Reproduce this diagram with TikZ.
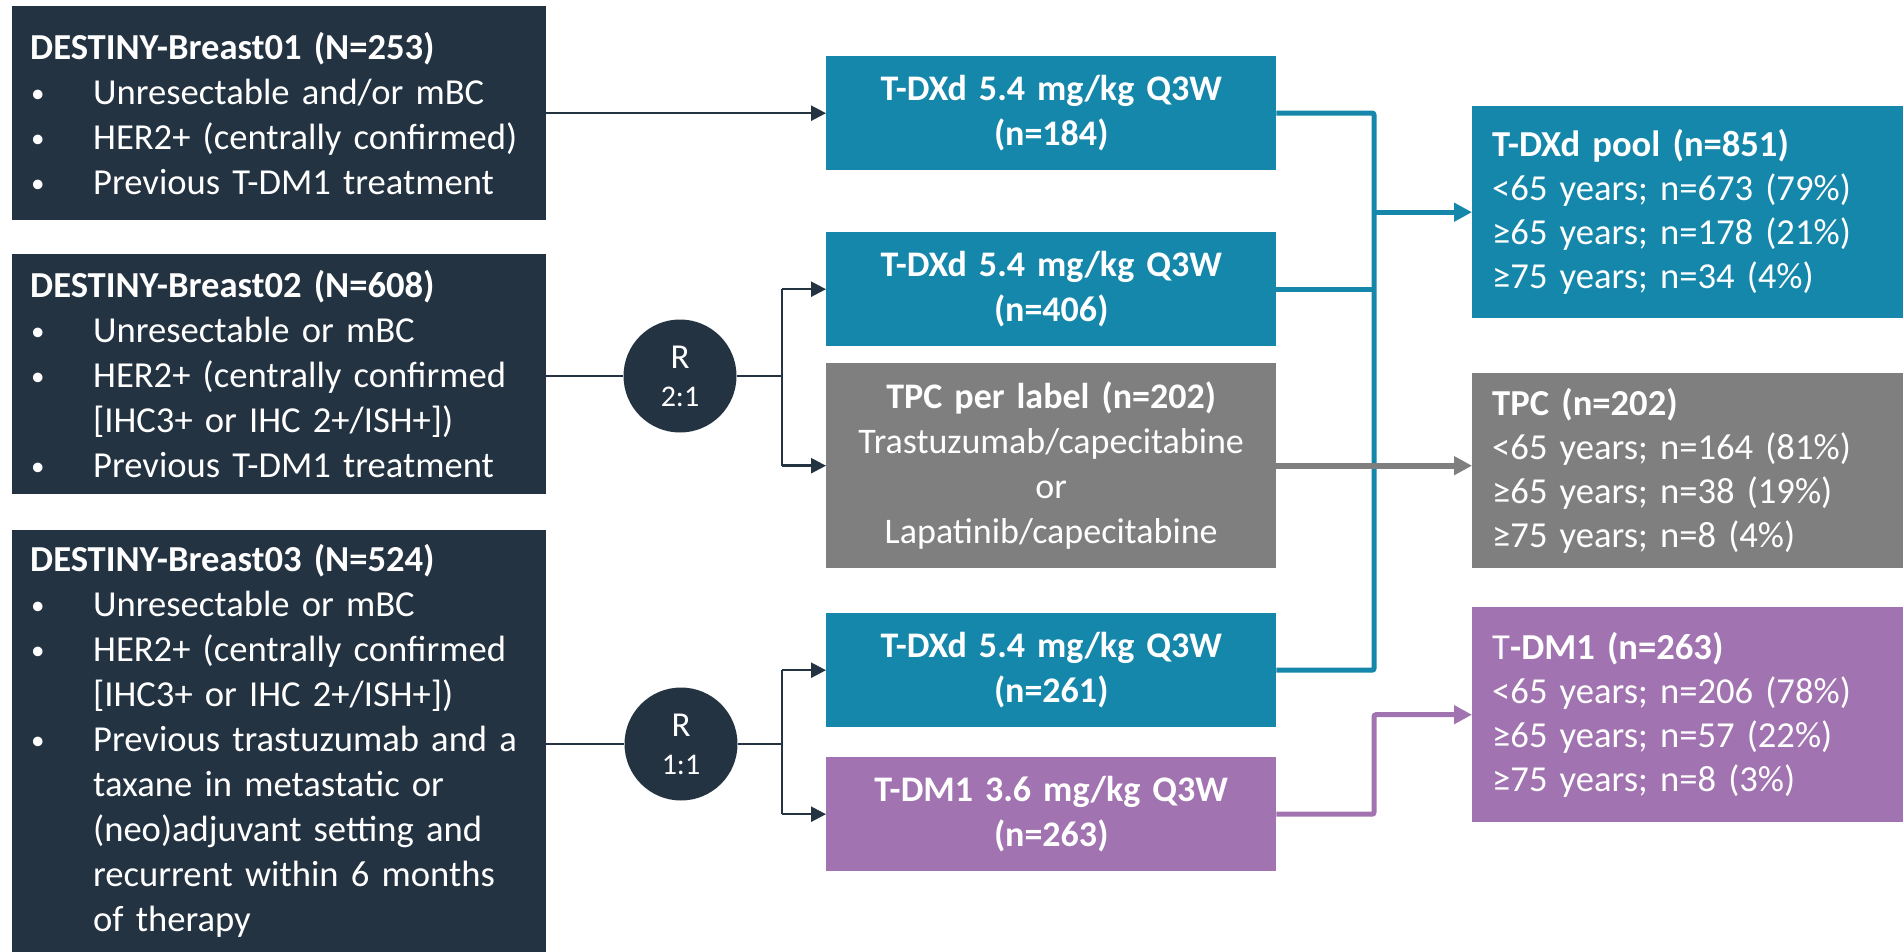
\documentclass[tikz,border=0pt]{standalone}
\usepackage{fontspec}
\setmainfont{Carlito}
\usetikzlibrary{arrows.meta}
\definecolor{navy}{HTML}{243342}
\definecolor{teal}{HTML}{1487AB}
\definecolor{greyb}{HTML}{7F7F7F}
\definecolor{purp}{HTML}{A173B0}
\newcommand{\bul}[1]{\makebox[63pt][l]{\hspace*{1pt}\raisebox{2pt}{\fontsize{27}{27}\selectfont •}}#1}
\newcommand{\cont}[1]{\hspace*{63pt}#1}
\tikzset{
  studybox/.style={draw=none,fill=navy,text=white,anchor=north west,minimum width=534pt,
    text width=498pt,inner xsep=18pt,inner ysep=0pt,align=left,font=\fontsize{36.6}{45}\selectfont},
  armbox/.style={draw=none,text=white,anchor=north west,minimum width=450pt,minimum height=114pt,
    text width=430pt,inner sep=0pt,align=center,font=\fontsize{36}{45}\selectfont},
  poolbox/.style={draw=none,text=white,anchor=north west,minimum width=440pt,
    text width=404pt,inner xsep=20pt,inner ysep=0pt,align=left,font=\fontsize{36.6}{44}\selectfont},
  rnode/.style={circle,fill=navy,text=white,minimum size=113pt,inner sep=0pt,align=center,
    font=\fontsize{35}{40}\selectfont},
  darkline/.style={draw=navy,line width=2.5pt},
  darkarrow/.style={darkline,-{Triangle[length=15pt,width=15pt]}},
  tealline/.style={draw=teal,line width=5pt},
  greyline/.style={draw=greyb,line width=6pt},
  purpline/.style={draw=purp,line width=5pt},
  bigtip/.style={-{Triangle[length=18pt,width=18pt]}},
}
\begin{document}
\begin{tikzpicture}[x=1pt,y=-1pt]
\useasboundingbox (0,0) rectangle (1903,952);
% study boxes
\node[studybox,minimum height=214pt] (db1) at (12,6) {\textbf{DESTINY-Breast01 (N=253)}\\
\bul{Unresectable and/or mBC}\\
\bul{HER2+ (centrally confirmed)}\\
\bul{Previous T-DM1 treatment}};
\node[studybox,minimum height=240pt] (db2) at (12,254) {\textbf{DESTINY-Breast02 (N=608)}\\
\bul{Unresectable or mBC}\\
\bul{HER2+ (centrally confirmed}\\
\cont{[IHC3+ or IHC 2+/ISH+])}\\
\bul{Previous T-DM1 treatment}};
\node[studybox,minimum height=422pt] (db3) at (12,530) {\textbf{DESTINY-Breast03 (N=524)}\\
\bul{Unresectable or mBC}\\
\bul{HER2+ (centrally confirmed}\\
\cont{[IHC3+ or IHC 2+/ISH+])}\\
\bul{Previous trastuzumab and a}\\
\cont{taxane in metastatic or}\\
\cont{(neo)adjuvant setting and}\\
\cont{recurrent within 6 months}\\
\cont{of therapy}};
% randomisation
\node[rnode] (c1) at (680,376) {R\\[-2pt]{\fontsize{30}{34}\selectfont 2:1}};
\node[rnode] (c2) at (681,744) {R\\[-2pt]{\fontsize{30}{34}\selectfont 1:1}};
% arm boxes
\node[armbox,fill=teal] (t1) at (826,56) {\textbf{T-DXd 5.4 mg/kg Q3W}\\\textbf{(n=184)}};
\node[armbox,fill=teal] (t2) at (826,232) {\textbf{T-DXd 5.4 mg/kg Q3W}\\\textbf{(n=406)}};
\node[armbox,fill=greyb,minimum height=205pt] (tpc) at (826,363) {\textbf{TPC per label (n=202)}\\Trastuzumab/capecitabine\\or\\Lapatinib/capecitabine};
\node[armbox,fill=teal] (t3) at (826,613) {\textbf{T-DXd 5.4 mg/kg Q3W}\\\textbf{(n=261)}};
\node[armbox,fill=purp] (dm) at (826,757) {\textbf{T-DM1 3.6 mg/kg Q3W}\\\textbf{(n=263)}};
% pool boxes
\node[poolbox,fill=teal,minimum height=212pt] (pool) at (1472,106) {\textbf{T-DXd pool (n=851)}\\
<65 years; n=673 (79\%)\\≥65 years; n=178 (21\%)\\≥75 years; n=34 (4\%)};
\node[poolbox,fill=greyb,minimum height=195pt] (tpcr) at (1472,373) {\textbf{TPC (n=202)}\\
<65 years; n=164 (81\%)\\≥65 years; n=38 (19\%)\\≥75 years; n=8 (4\%)};
\node[poolbox,fill=purp,minimum height=215pt] (dmr) at (1472,607) {T\textbf{-DM1 (n=263)}\\
<65 years; n=206 (78\%)\\≥65 years; n=57 (22\%)\\≥75 years; n=8 (3\%)};
% coordinates
\coordinate (b1) at (782,376);
\coordinate (b2) at (782,744);
\coordinate (mx) at (1374,113);
% dark connectors
\draw[darkarrow] (db1.east |- t1.west) -- (t1.west);
\draw[darkline] (db2.east |- c1.west) -- (c1.west);
\draw[darkline] (c1.east) -- (b1);
\draw[darkline] (b1 |- t2.west) -- (b1 |- tpc.west);
\draw[darkarrow] (b1 |- t2.west) -- (t2.west);
\draw[darkarrow] (b1 |- tpc.west) -- (tpc.west);
\draw[darkline] (db3.east |- c2.west) -- (c2.west);
\draw[darkline] (c2.east) -- (b2);
\draw[darkline] (b2 |- t3.west) -- (b2 |- dm.west);
\draw[darkarrow] (b2 |- t3.west) -- (t3.west);
\draw[darkarrow] (b2 |- dm.west) -- (dm.west);
% teal merge
\draw[tealline,rounded corners=2pt] (t1.east) -- (mx) -- (mx |- t3.east) -- (t3.east);
\draw[tealline] (t2.east) -- (mx |- t2.east);
\draw[tealline,bigtip] (mx |- pool.west) -- (pool.west);
% grey
\draw[greyline,bigtip] (tpc.east) -- (tpcr.west |- tpc.east);
% purple
\draw[purpline,rounded corners=2pt,bigtip] (dm.east) -- (mx |- dm.east) -- (mx |- dmr.west) -- (dmr.west);
\end{tikzpicture}
\end{document}
